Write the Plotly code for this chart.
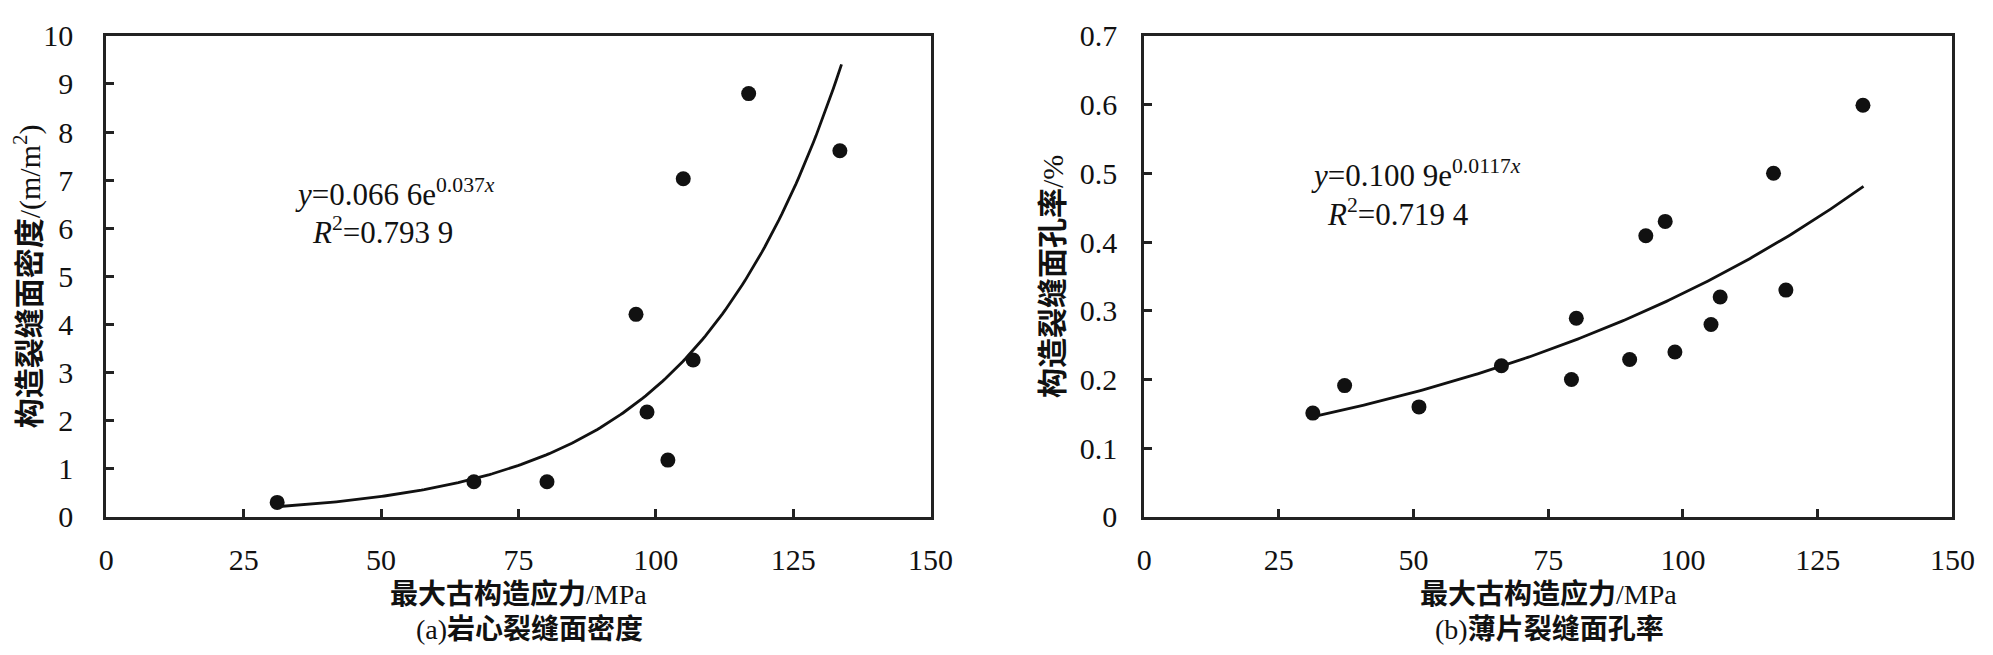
import numpy as np
import plotly.graph_objects as go

# ---- data ----
stress_a = [31.1, 66.9, 80.2, 96.4, 98.4, 102.2, 105.0, 106.8, 116.9, 133.5]
density_a = [0.30, 0.73, 0.73, 4.21, 2.18, 1.18, 7.03, 3.26, 8.80, 7.61]

stress_b = [31.3, 37.2, 51.0, 66.3, 79.3, 80.2, 90.1, 93.1, 96.7, 98.5, 105.2, 106.9, 116.8, 119.1, 133.4]
porosity_b = [0.151, 0.191, 0.160, 0.220, 0.200, 0.289, 0.229, 0.409, 0.430, 0.240, 0.280, 0.320, 0.500, 0.330, 0.599]

# exponential fit parameters shown on the chart: y = a * exp(b x)
fit_a = [0.0666, 0.037]
fit_b = [0.1009, 0.0117]
fit_range_a = [31.0, 133.8]
fit_range_b = [31.0, 133.5]

x_ticks = [0, 25, 50, 75, 100, 125, 150]
y_ticks_a = list(range(0, 11))
y_ticks_b = [0, 0.1, 0.2, 0.3, 0.4, 0.5, 0.6, 0.7]
y_ticklabels_b = ["0", "0.1", "0.2", "0.3", "0.4", "0.5", "0.6", "0.7"]

x_title = "<b>最大古构造应力</b>/MPa"
y_title_a = "<b>构造裂缝面密度</b>/(m/m<sup>2</sup>)"
y_title_b = "<b>构造裂缝面孔率</b>/%"
caption_a = "(a)<b>岩心裂缝面密度</b>"
caption_b = "(b)<b>薄片裂缝面孔率</b>"
eq_a = "<i>y</i>=0.066 6e<sup>0.037<i>x</i></sup>"
r2_a = "<i>R</i><sup>2</sup>=0.793 9"
eq_b = "<i>y</i>=0.100 9e<sup>0.0117<i>x</i></sup>"
r2_b = "<i>R</i><sup>2</sup>=0.719 4"

FONT = "Liberation Serif, Times New Roman, Noto Sans CJK SC, serif"
INK = "#111111"

xa = np.linspace(fit_range_a[0], fit_range_a[1], 200)
ya = fit_a[0] * np.exp(fit_a[1] * xa)
xb = np.linspace(fit_range_b[0], fit_range_b[1], 200)
yb = fit_b[0] * np.exp(fit_b[1] * xb)

fig = go.Figure()
fig.add_trace(go.Scatter(x=xa, y=ya, mode="lines", line=dict(color=INK, width=2.8),
                         xaxis="x", yaxis="y", showlegend=False))
fig.add_trace(go.Scatter(x=stress_a, y=density_a, mode="markers",
                         marker=dict(color=INK, size=15), xaxis="x", yaxis="y", showlegend=False))
fig.add_trace(go.Scatter(x=xb, y=yb, mode="lines", line=dict(color=INK, width=2.8),
                         xaxis="x2", yaxis="y2", showlegend=False))
fig.add_trace(go.Scatter(x=stress_b, y=porosity_b, mode="markers",
                         marker=dict(color=INK, size=15), xaxis="x2", yaxis="y2", showlegend=False))

W, H = 1993, 655
y_dom = [1 - 519 / H, 1 - 12.5 / H]

common_x = dict(range=[0, 150], tickvals=x_ticks, ticks="inside", ticklen=8, tickwidth=2.5,
                tickcolor="#222", showline=True, linecolor="#222", linewidth=3, mirror=True,
                showgrid=False, zeroline=False, ticklabelstandoff=14, ticklabeloverflow="allow",
                tickfont=dict(family=FONT, size=30, color=INK),
                title=dict(text=x_title, standoff=10, font=dict(family=FONT, size=28, color=INK)))
common_y = dict(ticks="inside", ticklen=8, tickwidth=2.5, tickcolor="#222",
                showline=True, linecolor="#222", linewidth=3, mirror=True,
                showgrid=False, zeroline=False, ticklabeloverflow="allow",
                tickfont=dict(family=FONT, size=30, color=INK))

fig.update_layout(
    width=W, height=H,
    margin=dict(l=0, r=0, t=0, b=0),
    paper_bgcolor="white", plot_bgcolor="white",
    xaxis=dict(domain=[91.7 / W, 929 / W], anchor="y", **common_x),
    yaxis=dict(domain=y_dom, anchor="x", range=[0, 10], tickvals=y_ticks_a, ticklabelstandoff=24,
               title=dict(text=y_title_a, standoff=4, font=dict(family=FONT, size=30, color=INK)),
               **common_y),
    xaxis2=dict(domain=[1146 / W, 1967 / W], anchor="y2", **common_x),
    yaxis2=dict(domain=y_dom, anchor="x2", range=[0, 0.7], tickvals=y_ticks_b,
                ticktext=y_ticklabels_b, ticklabelstandoff=18,
                title=dict(text=y_title_b, standoff=8, font=dict(family=FONT, size=30, color=INK)),
                **common_y),
)

ann_font = dict(family=FONT, size=31, color=INK)
fig.add_annotation(x=34.0, y=6.75, xref="x", yref="y", text=eq_a, showarrow=False,
                   xanchor="left", yanchor="middle", font=ann_font)
fig.add_annotation(x=37.0, y=5.95, xref="x", yref="y", text=r2_a, showarrow=False,
                   xanchor="left", yanchor="middle", font=ann_font)
fig.add_annotation(x=30.5, y=0.50, xref="x2", yref="y2", text=eq_b, showarrow=False,
                   xanchor="left", yanchor="middle", font=ann_font)
fig.add_annotation(x=33.6, y=0.443, xref="x2", yref="y2", text=r2_b, showarrow=False,
                   xanchor="left", yanchor="middle", font=ann_font)

cap_font = dict(family=FONT, size=28, color=INK)
fig.add_annotation(x=522 / W, y=0, xref="paper", yref="paper", text=caption_a,
                   showarrow=False, xanchor="center", yanchor="bottom", font=cap_font, borderpad=0)
fig.add_annotation(x=1558 / W, y=0, xref="paper", yref="paper", text=caption_b,
                   showarrow=False, xanchor="center", yanchor="bottom", font=cap_font, borderpad=0)

fig.write_html("out.html")
